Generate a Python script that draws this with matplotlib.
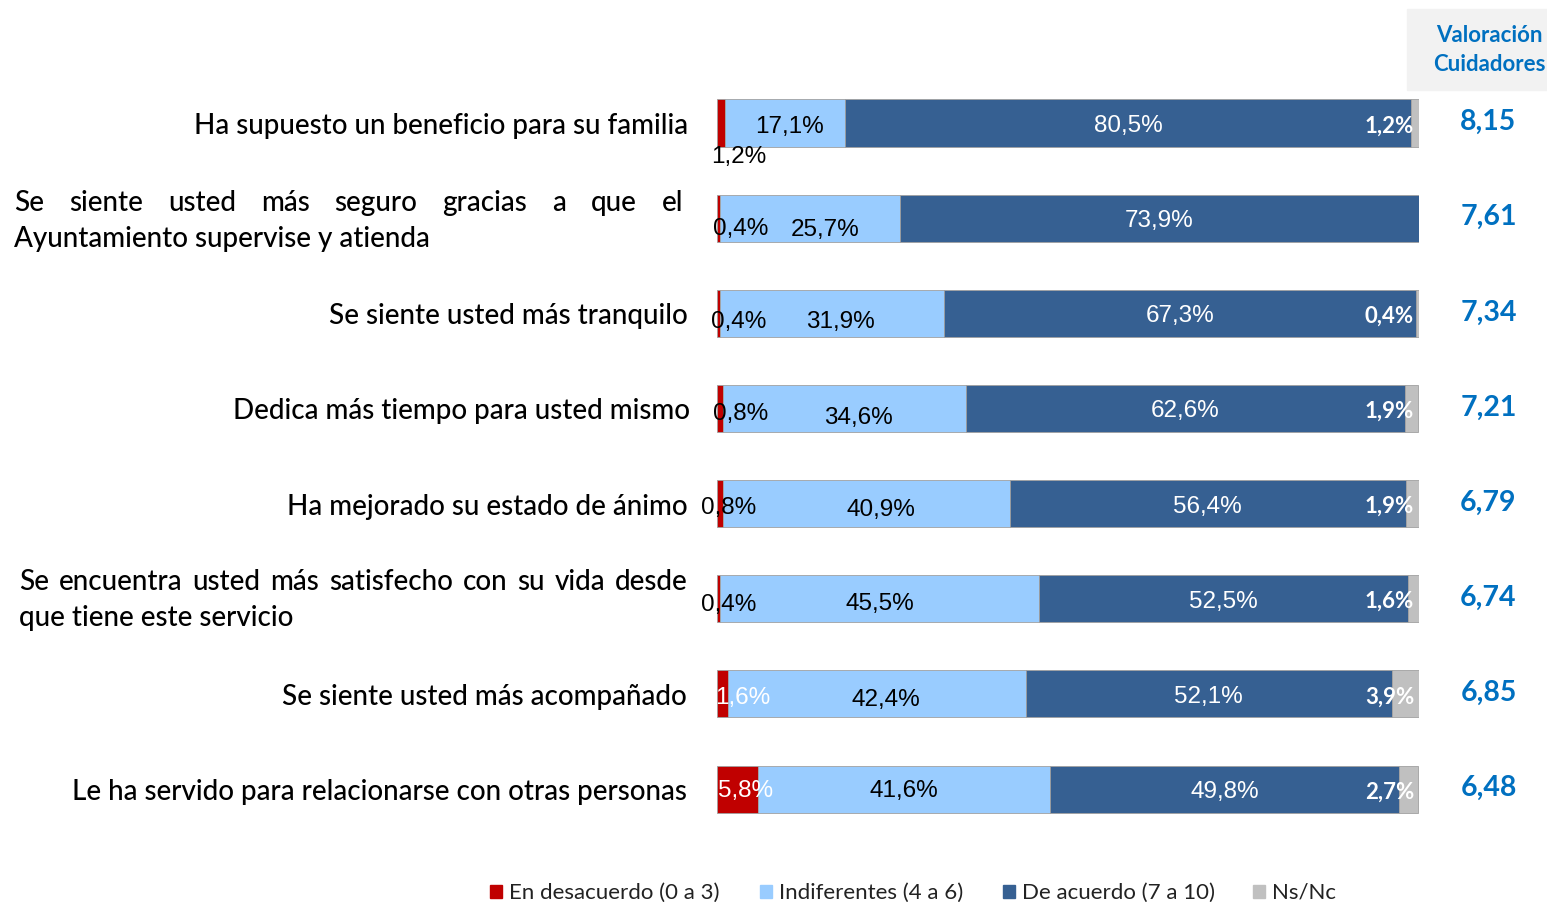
import numpy as np
import matplotlib
matplotlib.use('Agg')
import matplotlib.pyplot as plt

#------------------------------------------------------------------------------
# data

categories = [
    'Ha supuesto un beneficio para su familia',
    'Se siente usted más seguro gracias a que el Ayuntamiento supervise y atienda',
    'Se siente usted más tranquilo',
    'Dedica más tiempo para usted mismo',
    'Ha mejorado su estado de ánimo',
    'Se encuentra usted más satisfecho con su vida desde que tiene este servicio',
    'Se siente usted más acompañado',
    'Le ha servido para relacionarse con otras personas',
]

desacuerdo   = [1.2, 0.4, 0.4, 0.8, 0.8, 0.4, 1.6, 5.8]
indiferentes = [17.1, 25.7, 31.9, 34.6, 40.9, 45.5, 42.4, 41.6]
de_acuerdo   = [80.5, 73.9, 67.3, 62.6, 56.4, 52.5, 52.1, 49.8]
ns_nc        = [1.2, 0.0, 0.4, 1.9, 1.9, 1.6, 3.9, 2.7]

valoracion = ['8,15', '7,61', '7,34', '7,21', '6,79', '6,74', '6,85', '6,48']

legend_labels = ['En desacuerdo (0 a 3)', 'Indiferentes (4 a 6)',
                 'De acuerdo (7 a 10)', 'Ns/Nc']

#------------------------------------------------------------------------------

W, H = 1547, 903
fig = plt.figure(figsize=(W/100, H/100), dpi=100)

red   = '#C00000'
light = '#99CCFF'
dark  = '#366092'
grey  = '#C0C0C0'
blue  = '#0070C0'

lab_font = 'Lato'
num_font = 'Liberation Sans'

# axes: x 717..1419 px, rows centred 124 + 95.2*i px
row0, step = 124, 95.15
top_px = row0 - step/2
bot_px = row0 + 7.5*step
ax = fig.add_axes([717/W, 1 - bot_px/H, 702/W, (bot_px - top_px)/H])
ax.set_xlim(0, 100)
ax.set_ylim(7.5, -0.5)
ax.axis('off')

y = np.arange(len(categories))
d = np.array(desacuerdo)
i_ = np.array(indiferentes)
a = np.array(de_acuerdo)
n = np.array(ns_nc)
h = 0.495
ec = '#A0A0A0'
ax.barh(y, d, height=h, color=red, edgecolor=ec, linewidth=0.6)
ax.barh(y, i_, left=d, height=h, color=light, edgecolor=ec, linewidth=0.6)
ax.barh(y, a, left=d + i_, height=h, color=dark, edgecolor=ec, linewidth=0.6)
ax.barh(y, n, left=d + i_ + a, height=h, color=grey, edgecolor=ec, linewidth=0.6)

def fmt(v):
    return f'{v:.1f}'.replace('.', ',') + '%'

fs = 17.5
# small "en desacuerdo" labels, placed as Excel left them
red_pos = [(-0.8, 0.35, 'k'), (-0.6, 0.1, 'k'), (-0.8, 0.08, 'k'), (-0.5, 0.05, 'k'),
           (-2.3, 0.04, 'k'), (-2.3, 0.06, 'k'), (-0.3, 0.03, 'w'), (0.2, 0.01, 'w')]
for k, (dx, dy, c) in enumerate(red_pos):
    ax.text(dx, y[k] + dy, fmt(d[k]), ha='left', va='center', color=c,
            fontsize=fs, family=num_font, clip_on=False)

# indiferentes labels
ind_shift = [(0.6, 0.03), (2.1, 0.11), (1.2, 0.08), (2.1, 0.09),
             (2.1, 0.06), (0.0, 0.04), (1.3, 0.05), (0.0, 0.01)]
for k, (dx, dy) in enumerate(ind_shift):
    ax.text(d[k] + i_[k]/2 + dx, y[k] + dy, fmt(i_[k]), ha='center', va='center',
            color='k', fontsize=fs, family=num_font)

# de acuerdo labels
for k in range(len(y)):
    ax.text(d[k] + i_[k] + a[k]/2, y[k] + 0.02, fmt(a[k]), ha='center', va='center',
            color='white', fontsize=fs, family=num_font)

# ns/nc labels, right aligned at the bar end
for k in range(len(y)):
    if n[k] > 0:
        ax.text(99.3, y[k] + 0.02, fmt(n[k]), ha='right', va='center', color='white',
                fontsize=16, family=lab_font, fontweight='bold')

# valoracion column
fig.patches.append(plt.Rectangle((1407/W, 1 - 91/H), 140/W, 81/H,
                                 transform=fig.transFigure, color='#F2F2F2', zorder=0))
fig.text(1489/W, 1 - 50/H, 'Valoración\nCuidadores', ha='center', va='center',
         color=blue, fontsize=16, family=lab_font, fontweight='bold', linespacing=1.5)
for k, v in enumerate(valoracion):
    ax.text(109.9, y[k] - 0.02, v, ha='center', va='center', color=blue,
            fontsize=20.5, family=lab_font, fontweight='bold', clip_on=False)

#------------------------------------------------------------------------------
# category labels (two of them justified on two lines, as in the reference)

cfs = 20
cw = 'medium'
renderer = fig.canvas.get_renderer()

def px(x, yy):
    return x/W, 1 - yy/H

def justified(words, x0, x1, yy):
    ts = [fig.text(*px(x0, yy), w, ha='left', va='center', fontsize=cfs,
                   family=lab_font, fontweight=cw) for w in words]
    widths = [t.get_window_extent(renderer).width for t in ts]
    gap = (x1 - x0 - sum(widths)) / (len(words) - 1)
    x = x0
    for t, wd in zip(ts, widths):
        t.set_position(px(x, yy))
        x += wd + gap

single = {0: 688, 2: 688, 3: 690, 4: 688, 6: 687, 7: 687}
for k, xr in single.items():
    fig.text(*px(xr, row0 + 2 + step*k), categories[k], ha='right', va='center',
             fontsize=cfs, family=lab_font, fontweight=cw)

justified('Se siente usted más seguro gracias a que el'.split(), 14, 683, 203)
fig.text(*px(14, 239), 'Ayuntamiento supervise y atienda', ha='left', va='center',
         fontsize=cfs, family=lab_font, fontweight=cw)
justified('Se encuentra usted más satisfecho con su vida desde'.split(), 19, 688, 582)
fig.text(*px(19, 618), 'que tiene este servicio', ha='left', va='center',
         fontsize=cfs, family=lab_font, fontweight=cw)

#------------------------------------------------------------------------------
# legend

leg_x = [490, 760, 1003, 1253]
for xs, lab, c in zip(leg_x, legend_labels, [red, light, dark, grey]):
    fig.patches.append(plt.Rectangle((xs/W, 1 - 899/H), 12/W, 13/H,
                                     transform=fig.transFigure, color=c))
    fig.text(*px(xs + 19, 893), lab, ha='left', va='center', fontsize=16,
             family=lab_font, color='#222222')

fig.savefig('out.png', dpi=100)
